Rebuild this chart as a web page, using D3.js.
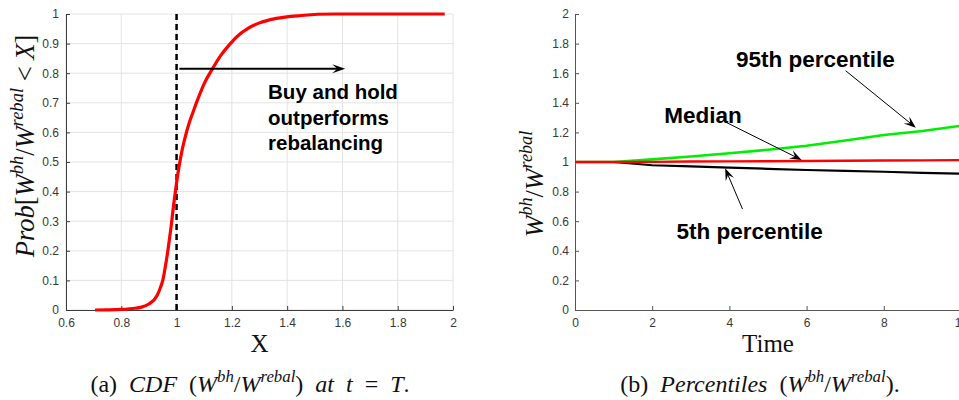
<!DOCTYPE html>
<html>
<head>
<meta charset="utf-8">
<script src="https://cdn.jsdelivr.net/npm/d3@7"></script>
<style>
  body { margin: 0; background: #fff; }
  .tick text { font-family: "Liberation Sans", Arial, sans-serif; font-size: 12px; fill: #383838; }
  .ann { font-family: "Liberation Sans", Arial, sans-serif; font-weight: bold; fill: #000; }
  .math { font-family: "Liberation Serif", "Times New Roman", serif; fill: #111; }
</style>
</head>
<body>
<div id="chart"></div>
<script>
// ---- data: panel (a) CDF of W^bh / W^rebal at t = T
const cdfX = [0.705, 0.75, 0.80, 0.85, 0.87, 0.90, 0.93, 0.94, 0.95, 0.96, 0.97, 0.98, 0.99, 1.00,
              1.01, 1.02, 1.03, 1.045, 1.06, 1.08, 1.10, 1.13, 1.16, 1.19, 1.22, 1.26, 1.30, 1.36,
              1.45, 1.57, 1.75, 1.97];
const cdfP = [0, 0.0005, 0.002, 0.006, 0.009, 0.02, 0.05, 0.072, 0.10, 0.15, 0.21, 0.28, 0.36, 0.43,
              0.49, 0.54, 0.58, 0.63, 0.67, 0.72, 0.765, 0.815, 0.86, 0.895, 0.925, 0.952, 0.97, 0.985,
              0.995, 1, 1, 1];
const cdfXTicks = [0.6, 0.8, 1, 1.2, 1.4, 1.6, 1.8, 2];
const cdfYTicks = [0, 0.1, 0.2, 0.3, 0.4, 0.5, 0.6, 0.7, 0.8, 0.9, 1];
const refX = 1;
const cdfArrowX = [1.01, 1.61];
const cdfArrowY = 0.815;
const cdfNote = ["Buy and hold", "outperforms", "rebalancing"];

// ---- data: panel (b) percentiles over time
const years = [0, 1, 2, 3, 4, 5, 6, 7, 8, 9, 10];
const p95 = [1, 1, 1.018, 1.037, 1.059, 1.083, 1.11, 1.145, 1.182, 1.21, 1.245];
const p50 = [1, 1, 1.001, 1.003, 1.004, 1.005, 1.007, 1.008, 1.010, 1.011, 1.013];
const p05 = [1, 1, 0.978, 0.970, 0.962, 0.954, 0.946, 0.940, 0.934, 0.927, 0.921];
const pctXTicks = [0, 2, 4, 6, 8, 10];
const pctYTicks = [0, 0.2, 0.4, 0.6, 0.8, 1, 1.2, 1.4, 1.6, 1.8, 2];
const pctLabels = ["95th percentile", "Median", "5th percentile"];
const pctLabelAt = [[4.17, 1.644], [2.31, 1.266], [2.63, 0.478]];
const pctArrowFrom = [[7.01, 1.617], [3.93, 1.266], [4.34, 0.682]];
const pctArrowTo = [[8.83, 1.232], [5.87, 1.014], [3.89, 0.957]];

const W = 959, H = 400;
const svg = d3.select("#chart").append("svg")
  .attr("width", W).attr("height", H)
  .style("background", "#fff");

// arrow head like MATLAB 'vback2'
function arrow(g, x1, y1, x2, y2, lw, len, wid) {
  const a = Math.atan2(y2 - y1, x2 - x1);
  const c = Math.cos(a), s = Math.sin(a);
  const bx = x2 - len * c, by = y2 - len * s;
  const nx = x2 - len * 0.6 * c, ny = y2 - len * 0.6 * s;
  g.append("line").attr("x1", x1).attr("y1", y1).attr("x2", nx).attr("y2", ny)
    .attr("stroke", "#000").attr("stroke-width", lw);
  g.append("path")
    .attr("d", `M${x2},${y2}L${bx - wid / 2 * s},${by + wid / 2 * c}L${nx},${ny}L${bx + wid / 2 * s},${by - wid / 2 * c}Z`)
    .attr("fill", "#000");
}

// math-ish text with superscripts
function mathText(g, parts, size) {
  const t = g.append("text").attr("class", "math").attr("font-size", size);
  let up = false;
  parts.forEach(p => {
    const sp = t.append("tspan").text(p.t)
      .attr("font-style", p.i ? "italic" : "normal");
    if (p.sup && !up) { sp.attr("dy", -size * 0.42).attr("font-size", size * 0.7); up = true; }
    else if (p.sup) { sp.attr("font-size", size * 0.7); }
    else if (up) { sp.attr("dy", size * 0.42); up = false; }
  });
  return t;
}
const ratio = [
  { t: "W", i: true }, { t: "bh", i: true, sup: true },
  { t: "/" }, { t: "W", i: true }, { t: "rebal", i: true, sup: true }
];

function styleAxis(g, col) {
  g.select(".domain").attr("stroke", col).attr("stroke-width", 1);
  g.selectAll(".tick line").attr("stroke", col);
}

// ================= panel (a) =================
const xa = d3.scaleLinear().domain([0.6, 2]).range([66, 453]);
const ya = d3.scaleLinear().domain([0, 1]).range([310, 14]);
const ga = svg.append("g");

// grid
ga.append("g").selectAll("line").data(cdfXTicks).join("line")
  .attr("x1", d => xa(d)).attr("x2", d => xa(d)).attr("y1", ya(0)).attr("y2", ya(1))
  .attr("stroke", "#e3e3e3");
ga.append("g").selectAll("line").data(cdfYTicks).join("line")
  .attr("x1", xa(0.6)).attr("x2", xa(2)).attr("y1", d => ya(d)).attr("y2", d => ya(d))
  .attr("stroke", "#e3e3e3");

const axA = ga.append("g").attr("transform", `translate(0,${ya(0)})`)
  .call(d3.axisBottom(xa).tickValues(cdfXTicks).tickFormat(d3.format("~g")).tickSize(-4).tickSizeOuter(0).tickPadding(8));
styleAxis(axA, "#3c3c3c");
const ayA = ga.append("g").attr("transform", `translate(${xa(0.6)},0)`)
  .call(d3.axisLeft(ya).tickValues(cdfYTicks).tickFormat(d3.format("~g")).tickSize(-4).tickSizeOuter(0).tickPadding(7));
styleAxis(ayA, "#3c3c3c");

// reference line at X = 1
ga.append("line")
  .attr("x1", xa(refX)).attr("x2", xa(refX)).attr("y1", ya(1)).attr("y2", ya(0))
  .attr("stroke", "#000").attr("stroke-width", 2.5).attr("stroke-dasharray", "6,4");

// CDF curve
ga.append("path")
  .datum(cdfX.map((x, i) => [x, cdfP[i]]))
  .attr("d", d3.line().x(d => xa(d[0])).y(d => ya(d[1])).curve(d3.curveMonotoneX))
  .attr("fill", "none").attr("stroke", "#ff0000").attr("stroke-width", 3.2);

arrow(ga, xa(cdfArrowX[0]), ya(cdfArrowY), xa(cdfArrowX[1]), ya(cdfArrowY), 2, 13, 9);

ga.append("g").selectAll("text").data(cdfNote).join("text")
  .attr("class", "ann").attr("font-size", 20.5)
  .attr("x", xa(1.331)).attr("y", (d, i) => ya(0.712) + i * 25.5)
  .text(d => d);

// axis labels
mathText(ga, [{ t: "X" }], 25).attr("x", (xa(0.6) + xa(2)) / 2).attr("y", 352)
  .attr("text-anchor", "middle");
mathText(ga, [{ t: "Prob", i: true }, { t: "[" }, ...ratio, { t: " < " }, { t: "X", i: true }, { t: "]" }], 26.5)
  .attr("text-anchor", "middle")
  .attr("transform", `translate(34,146) rotate(-90)`);
mathText(ga, [{ t: "(a)  " }, { t: "CDF", i: true }, { t: " (" }, ...ratio, { t: ")  " },
  { t: "at t", i: true }, { t: " = " }, { t: "T", i: true }, { t: "." }], 24)
  .attr("text-anchor", "middle").attr("x", 250).attr("y", 392)
  .attr("word-spacing", 6);

// ================= panel (b) =================
const xb = d3.scaleLinear().domain([0, 10]).range([575, 961]);
const yb = d3.scaleLinear().domain([0, 2]).range([310, 14]);
const gb = svg.append("g");

const axB = gb.append("g").attr("transform", `translate(0,${yb(0)})`)
  .call(d3.axisBottom(xb).tickValues(pctXTicks).tickFormat(d3.format("~g")).tickSize(-4).tickSizeOuter(0).tickPadding(8));
styleAxis(axB, "#555");
const ayB = gb.append("g").attr("transform", `translate(${xb(0)},0)`)
  .call(d3.axisLeft(yb).tickValues(pctYTicks).tickFormat(d3.format("~g")).tickSize(-4).tickSizeOuter(0).tickPadding(6));
styleAxis(ayB, "#555");

const lineB = d3.line().x(d => xb(d[0])).y(d => yb(d[1]));
[[p05, "#000", 2.2], [p95, "#00ee00", 2.6], [p50, "#ff0000", 2.4]].forEach(([s, c, w]) => {
  gb.append("path").datum(years.map((t, i) => [t, s[i]]))
    .attr("d", lineB).attr("fill", "none").attr("stroke", c).attr("stroke-width", w);
});

gb.append("g").selectAll("text").data(pctLabels).join("text")
  .attr("class", "ann").attr("font-size", 22.5)
  .attr("x", (d, i) => xb(pctLabelAt[i][0])).attr("y", (d, i) => yb(pctLabelAt[i][1]))
  .text(d => d);
pctArrowFrom.forEach((f, i) => {
  arrow(gb, xb(f[0]), yb(f[1]), xb(pctArrowTo[i][0]), yb(pctArrowTo[i][1]), 1, 12, 9);
});

mathText(gb, [{ t: "Time" }], 25).attr("x", (xb(0) + xb(10)) / 2).attr("y", 352)
  .attr("text-anchor", "middle");
mathText(gb, ratio, 26).attr("text-anchor", "middle")
  .attr("transform", `translate(543,184) rotate(-90)`);
mathText(gb, [{ t: "(b)  " }, { t: "Percentiles", i: true }, { t: " (" }, ...ratio, { t: ")." }], 24)
  .attr("text-anchor", "middle").attr("x", 760).attr("y", 392)
  .attr("word-spacing", 6);
</script>
</body>
</html>
